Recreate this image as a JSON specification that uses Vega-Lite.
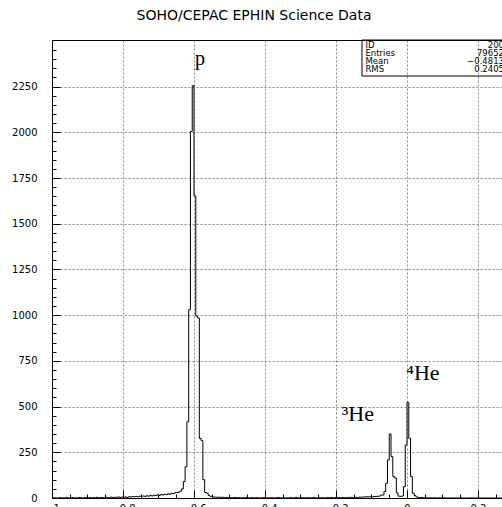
{
"$schema":"https://vega.github.io/schema/vega-lite/v6.json",
"width":450,"height":458,
"autosize":{"type":"none"},
"padding":{"left":52,"top":40,"right":0,"bottom":9},
"background":"white",
"title":{"text":"SOHO/CEPAC  EPHIN Science Data","anchor":"middle","dx":-23,"offset":6,"baseline":"alphabetic","font":"DejaVu Sans","fontSize":14,"fontWeight":"normal","color":"black"},
"config":{"view":{"stroke":null},"axis":{"labelFont":"DejaVu Sans","labelFontSize":10,"labelColor":"black","tickColor":"black","domainColor":"black","title":null}},
"datasets":{
"hist":[
{"x":-1.000,"n":0},{"x":-0.995,"n":1},{"x":-0.990,"n":0},{"x":-0.985,"n":0},{"x":-0.980,"n":2},{"x":-0.975,"n":0},{"x":-0.970,"n":1},{"x":-0.965,"n":0},{"x":-0.960,"n":3},{"x":-0.955,"n":0},
{"x":-0.950,"n":1},{"x":-0.945,"n":2},{"x":-0.940,"n":0},{"x":-0.935,"n":1},{"x":-0.930,"n":0},{"x":-0.925,"n":3},{"x":-0.920,"n":1},{"x":-0.915,"n":0},{"x":-0.910,"n":2},{"x":-0.905,"n":1},
{"x":-0.900,"n":0},{"x":-0.895,"n":3},{"x":-0.890,"n":1},{"x":-0.885,"n":2},{"x":-0.880,"n":0},{"x":-0.875,"n":4},{"x":-0.870,"n":1},{"x":-0.865,"n":2},{"x":-0.860,"n":3},{"x":-0.855,"n":1},
{"x":-0.850,"n":4},{"x":-0.845,"n":2},{"x":-0.840,"n":3},{"x":-0.835,"n":5},{"x":-0.830,"n":2},{"x":-0.825,"n":4},{"x":-0.820,"n":3},{"x":-0.815,"n":6},{"x":-0.810,"n":3},{"x":-0.805,"n":5},
{"x":-0.800,"n":4},{"x":-0.795,"n":6},{"x":-0.790,"n":3},{"x":-0.785,"n":7},{"x":-0.780,"n":5},{"x":-0.775,"n":8},{"x":-0.770,"n":6},{"x":-0.765,"n":9},{"x":-0.760,"n":7},{"x":-0.755,"n":10},
{"x":-0.750,"n":8},{"x":-0.745,"n":11},{"x":-0.740,"n":9},{"x":-0.735,"n":12},{"x":-0.730,"n":10},{"x":-0.725,"n":14},{"x":-0.720,"n":11},{"x":-0.715,"n":15},{"x":-0.710,"n":13},{"x":-0.705,"n":17},
{"x":-0.700,"n":14},{"x":-0.695,"n":19},{"x":-0.690,"n":16},{"x":-0.685,"n":21},{"x":-0.680,"n":18},{"x":-0.675,"n":23},{"x":-0.670,"n":20},{"x":-0.665,"n":26},{"x":-0.660,"n":24},{"x":-0.655,"n":29},
{"x":-0.650,"n":30},{"x":-0.645,"n":32},{"x":-0.640,"n":38},{"x":-0.635,"n":50},{"x":-0.630,"n":90},{"x":-0.625,"n":171},{"x":-0.620,"n":417},{"x":-0.615,"n":1030},{"x":-0.610,"n":2004},{"x":-0.605,"n":2255},
{"x":-0.600,"n":1652},{"x":-0.595,"n":995},{"x":-0.590,"n":985},{"x":-0.585,"n":326},{"x":-0.580,"n":315},{"x":-0.575,"n":100},{"x":-0.570,"n":30},{"x":-0.565,"n":26},{"x":-0.560,"n":14},{"x":-0.555,"n":9},
{"x":-0.550,"n":7},{"x":-0.545,"n":5},{"x":-0.540,"n":4},{"x":-0.535,"n":4},{"x":-0.530,"n":5},{"x":-0.525,"n":3},{"x":-0.520,"n":4},{"x":-0.515,"n":2},{"x":-0.510,"n":3},{"x":-0.505,"n":2},
{"x":-0.500,"n":3},{"x":-0.495,"n":1},{"x":-0.490,"n":2},{"x":-0.485,"n":3},{"x":-0.480,"n":1},{"x":-0.475,"n":2},{"x":-0.470,"n":0},{"x":-0.465,"n":2},{"x":-0.460,"n":1},{"x":-0.455,"n":3},
{"x":-0.450,"n":1},{"x":-0.445,"n":0},{"x":-0.440,"n":2},{"x":-0.435,"n":1},{"x":-0.430,"n":0},{"x":-0.425,"n":2},{"x":-0.420,"n":1},{"x":-0.415,"n":0},{"x":-0.410,"n":1},{"x":-0.405,"n":2},
{"x":-0.400,"n":0},{"x":-0.395,"n":1},{"x":-0.390,"n":0},{"x":-0.385,"n":2},{"x":-0.380,"n":1},{"x":-0.375,"n":0},{"x":-0.370,"n":1},{"x":-0.365,"n":3},{"x":-0.360,"n":0},{"x":-0.355,"n":1},
{"x":-0.350,"n":2},{"x":-0.345,"n":0},{"x":-0.340,"n":1},{"x":-0.335,"n":0},{"x":-0.330,"n":2},{"x":-0.325,"n":1},{"x":-0.320,"n":0},{"x":-0.315,"n":3},{"x":-0.310,"n":1},{"x":-0.305,"n":0},
{"x":-0.300,"n":2},{"x":-0.295,"n":1},{"x":-0.290,"n":0},{"x":-0.285,"n":1},{"x":-0.280,"n":2},{"x":-0.275,"n":0},{"x":-0.270,"n":1},{"x":-0.265,"n":3},{"x":-0.260,"n":1},{"x":-0.255,"n":0},
{"x":-0.250,"n":2},{"x":-0.245,"n":1},{"x":-0.240,"n":2},{"x":-0.235,"n":0},{"x":-0.230,"n":1},{"x":-0.225,"n":2},{"x":-0.220,"n":1},{"x":-0.215,"n":3},{"x":-0.210,"n":0},{"x":-0.205,"n":2},
{"x":-0.200,"n":1},{"x":-0.195,"n":2},{"x":-0.190,"n":1},{"x":-0.185,"n":3},{"x":-0.180,"n":2},{"x":-0.175,"n":1},{"x":-0.170,"n":3},{"x":-0.165,"n":2},{"x":-0.160,"n":4},{"x":-0.155,"n":3},
{"x":-0.150,"n":2},{"x":-0.145,"n":4},{"x":-0.140,"n":3},{"x":-0.135,"n":5},{"x":-0.130,"n":4},{"x":-0.125,"n":6},{"x":-0.120,"n":5},{"x":-0.115,"n":7},{"x":-0.110,"n":6},{"x":-0.105,"n":7},
{"x":-0.100,"n":6},{"x":-0.095,"n":8},{"x":-0.090,"n":8},{"x":-0.085,"n":9},{"x":-0.080,"n":10},{"x":-0.075,"n":16},{"x":-0.070,"n":16},{"x":-0.065,"n":35},{"x":-0.060,"n":80},{"x":-0.055,"n":208},
{"x":-0.050,"n":350},{"x":-0.045,"n":226},{"x":-0.040,"n":117},{"x":-0.035,"n":110},{"x":-0.030,"n":27},{"x":-0.025,"n":10},{"x":-0.020,"n":9},{"x":-0.015,"n":11},{"x":-0.010,"n":62},{"x":-0.005,"n":290},
{"x":0.000,"n":523},{"x":0.005,"n":327},{"x":0.010,"n":117},{"x":0.015,"n":27},{"x":0.020,"n":14},{"x":0.025,"n":6},{"x":0.030,"n":3},{"x":0.035,"n":2},{"x":0.040,"n":3},{"x":0.045,"n":1},
{"x":0.050,"n":2},{"x":0.055,"n":1},{"x":0.060,"n":0},{"x":0.065,"n":1},{"x":0.070,"n":0},{"x":0.075,"n":1},{"x":0.080,"n":0},{"x":0.085,"n":0},{"x":0.090,"n":1},{"x":0.095,"n":0},
{"x":0.100,"n":0},{"x":0.105,"n":1},{"x":0.110,"n":0},{"x":0.115,"n":0},{"x":0.120,"n":0},{"x":0.125,"n":1},{"x":0.130,"n":0},{"x":0.135,"n":0},{"x":0.140,"n":0},{"x":0.145,"n":0},
{"x":0.150,"n":1},{"x":0.155,"n":0},{"x":0.160,"n":0},{"x":0.165,"n":0},{"x":0.170,"n":0},{"x":0.175,"n":0},{"x":0.180,"n":1},{"x":0.185,"n":0},{"x":0.190,"n":0},{"x":0.195,"n":0},
{"x":0.200,"n":0},{"x":0.205,"n":0},{"x":0.210,"n":0},{"x":0.215,"n":0},{"x":0.220,"n":0},{"x":0.225,"n":0},{"x":0.230,"n":0},{"x":0.235,"n":0},{"x":0.240,"n":0},{"x":0.245,"n":0},
{"x":0.250,"n":0},{"x":0.255,"n":0},{"x":0.260,"n":0},{"x":0.265,"n":0},{"x":0.270,"n":0}
],
"ann":[
{"t":"p","x":-0.597,"y":2369,"s":20},
{"t":"³He","x":-0.184,"y":421,"s":22},
{"t":"⁴He","x":-0.002,"y":645,"s":22}
],
"stats":[
{"k":"ID","v":"200","y":2478},
{"k":"Entries","v":"79652","y":2434},
{"k":"Mean","v":"−0.4813","y":2390},
{"k":"RMS","v":"0.2405","y":2346}
],
"box":[{"x1":-0.1268,"x2":0.4,"y1":2505,"y2":2308}]
},
"layer":[
{"data":{"name":"hist"},
 "mark":{"type":"line","interpolate":"step-after","color":"black","strokeWidth":1},
 "encoding":{
  "x":{"field":"x","type":"quantitative","scale":{"domain":[-1,0.26761],"nice":false,"zero":false},
   "axis":{"orient":"bottom","values":[-1,-0.8,-0.6,-0.4,-0.2,0,0.2],"format":".1~f","grid":true,"gridColor":"#888","gridDash":[2,2],"gridWidth":1,"tickSize":-8,"domain":true,"labelPadding":13,"labelBaseline":"top","labelFlush":false,"labelOverlap":false}},
  "y":{"field":"n","type":"quantitative","scale":{"domain":[0,2505],"nice":false,"zero":false},
   "axis":{"orient":"left","values":[0,250,500,750,1000,1250,1500,1750,2000,2250],"format":"d","grid":true,"gridColor":"#888","gridDash":[2,2],"gridWidth":1,"tickSize":-8,"domain":true,"labelPadding":23,"labelFlush":false,"labelOverlap":false}}
 }},
{"data":{"name":"hist"},
 "mark":{"type":"line","strokeOpacity":0},
 "encoding":{
  "x":{"field":"x","type":"quantitative",
   "axis":{"orient":"bottom","values":[-1,-0.95,-0.9,-0.85,-0.8,-0.75,-0.7,-0.65,-0.6,-0.55,-0.5,-0.45,-0.4,-0.35,-0.3,-0.25,-0.2,-0.15,-0.1,-0.05,0,0.05,0.1,0.15,0.2,0.25],"labels":false,"grid":false,"domain":false,"tickSize":-4}},
  "y":{"field":"n","type":"quantitative",
   "axis":{"orient":"left","values":[0,50,100,150,200,250,300,350,400,450,500,550,600,650,700,750,800,850,900,950,1000,1050,1100,1150,1200,1250,1300,1350,1400,1450,1500,1550,1600,1650,1700,1750,1800,1850,1900,1950,2000,2050,2100,2150,2200,2250,2300,2350,2400,2450],"labels":false,"grid":false,"domain":false,"tickSize":-4}}
 }},
{"data":{"name":"ann"},
 "mark":{"type":"text","font":"Liberation Serif","align":"left","baseline":"alphabetic","color":"black"},
 "encoding":{
  "x":{"field":"x","type":"quantitative","axis":{"orient":"top","labels":false,"ticks":false,"grid":false,"domain":true}},
  "y":{"field":"y","type":"quantitative","axis":null},
  "text":{"field":"t"},
  "size":{"field":"s","type":"quantitative","scale":null}
 }},
{"data":{"name":"box"},
 "mark":{"type":"rect","fillOpacity":0,"stroke":"black","strokeWidth":1},
 "encoding":{
  "x":{"field":"x1","type":"quantitative","axis":null},"x2":{"field":"x2"},
  "y":{"field":"y1","type":"quantitative","axis":null},"y2":{"field":"y2"}
 }},
{"data":{"name":"stats"},
 "mark":{"type":"text","font":"DejaVu Sans","fontSize":8.5,"align":"left","baseline":"middle","color":"black"},
 "encoding":{
  "x":{"datum":-0.117,"type":"quantitative","axis":null},
  "y":{"field":"y","type":"quantitative","axis":null},
  "text":{"field":"k"}
 }},
{"data":{"name":"stats"},
 "mark":{"type":"text","font":"DejaVu Sans","fontSize":8.5,"align":"right","baseline":"middle","color":"black"},
 "encoding":{
  "x":{"datum":0.2732,"type":"quantitative","axis":null},
  "y":{"field":"y","type":"quantitative","axis":null},
  "text":{"field":"v"}
 }}
],
"resolve":{"axis":{"x":"independent","y":"independent"}}
}
